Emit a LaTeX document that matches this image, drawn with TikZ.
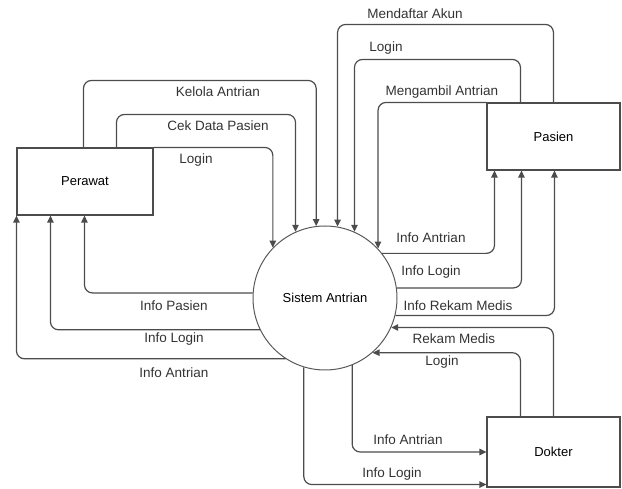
\documentclass[tikz,border=0pt]{standalone}
\usepackage{fontspec}
\setmainfont{Liberation Sans}
\usepackage{xcolor}
\usepackage{tikz}
\usetikzlibrary{arrows.meta}

\begin{document}
\begin{tikzpicture}[
        x=1pt, y=-1pt,
        entity/.style={
            rectangle,
            draw=black!70,
            line width=1.1pt,
            fill=white,
            inner sep=0pt,
            font=\fontsize{13}{15}\selectfont
        },
        process/.style={
            circle,
            draw=black!65,
            line width=1pt,
            minimum size=144pt,
            inner sep=0pt,
            font=\fontsize{13}{15}\selectfont
        },
        lbl/.style={
            inner sep=0pt,
            text=black!80,
            font=\fontsize{13.5}{15}\selectfont
        },
        flow/.style={-{Triangle[length=7pt,width=6.5pt]}, line width=1.2pt, draw=black!70, rounded corners=8pt}
    ]

    \useasboundingbox (0,0) rectangle (622,489);

    \node (perawat) [entity, minimum width=136pt, minimum height=67pt] at (85,181.5) {Perawat};
    \node (pasien) [entity, minimum width=133pt, minimum height=67pt] at (553.5,136.5) {Pasien};
    \node (dokter) [entity, minimum width=133pt, minimum height=70pt] at (553.5,452) {Dokter};
    \node (sistem) [process] at (325,298) {Sistem Antrian};

    \draw [flow] ([xshift=67pt]perawat.north west) -- ++(0,-67) -| (sistem.97.2);
    \draw [flow] ([xshift=100pt]perawat.north west) -- ++(0,-33) -| (sistem.114.6);
    \draw [flow] (perawat.north east) -| (sistem.136);

    \draw [flow] (sistem.176) -| ([xshift=68pt]perawat.south west);
    \draw [flow] (sistem.206.4) -| ([xshift=34pt]perawat.south west);
    \draw [flow] (sistem.237.9) -| (perawat.south west);

    \draw [flow] ([xshift=67pt]pasien.north west) -- ++(0,-78) -| (sistem.80.4);
    \draw [flow] ([xshift=34pt]pasien.north west) -- ++(0,-43) -| (sistem.66.3);
    \draw [flow] (pasien.north west) -| (sistem.43.8);

    \draw [flow] (sistem.38.7) -| ([xshift=8pt]pasien.south west);
    \draw [flow] (sistem.8) -| ([xshift=35pt]pasien.south west);
    \draw [flow] (sistem.346.3) -| ([xshift=68pt]pasien.south west);

    \draw [flow] ([xshift=67pt]dokter.north west) |- (sistem.336.3);
    \draw [flow] ([xshift=34pt]dokter.north west) |- (sistem.311.4);
    \draw [flow] (sistem.292) |- (dokter.west);
    \draw [flow] (sistem.253.9) |- ([yshift=3pt]dokter.south west);

    \node (kelola) [lbl] at (218,92) {Kelola Antrian};
    \node (cekdata) [lbl] at (218,126) {Cek Data Pasien};
    \node (loginperawat) [lbl] at (196,160) {Login};
    \node (infopasien) [lbl] at (174,306) {Info Pasien};
    \node (infologinperawat) [lbl] at (174,339) {Info Login};
    \node (infoantrianperawat) [lbl] at (174,373) {Info Antrian};

    \node (daftar) [lbl] at (415,14) {Mendaftar Akun};
    \node (loginpasien) [lbl] at (386,48) {Login};
    \node (ambil) [lbl] at (442,92) {Mengambil Antrian};
    \node (infoantrianpasien) [lbl] at (431,238) {Info Antrian};
    \node (infologinpasien) [lbl] at (431,272) {Info Login};
    \node (inforekam) [lbl] at (458,306) {Info Rekam Medis};

    \node (rekam) [lbl] at (454,339) {Rekam Medis};
    \node (logindokter) [lbl] at (442,362) {Login};
    \node (infoantriandokter) [lbl] at (408,440) {Info Antrian};
    \node (infologindokter) [lbl] at (392,474) {Info Login};

\end{tikzpicture}
\end{document}
